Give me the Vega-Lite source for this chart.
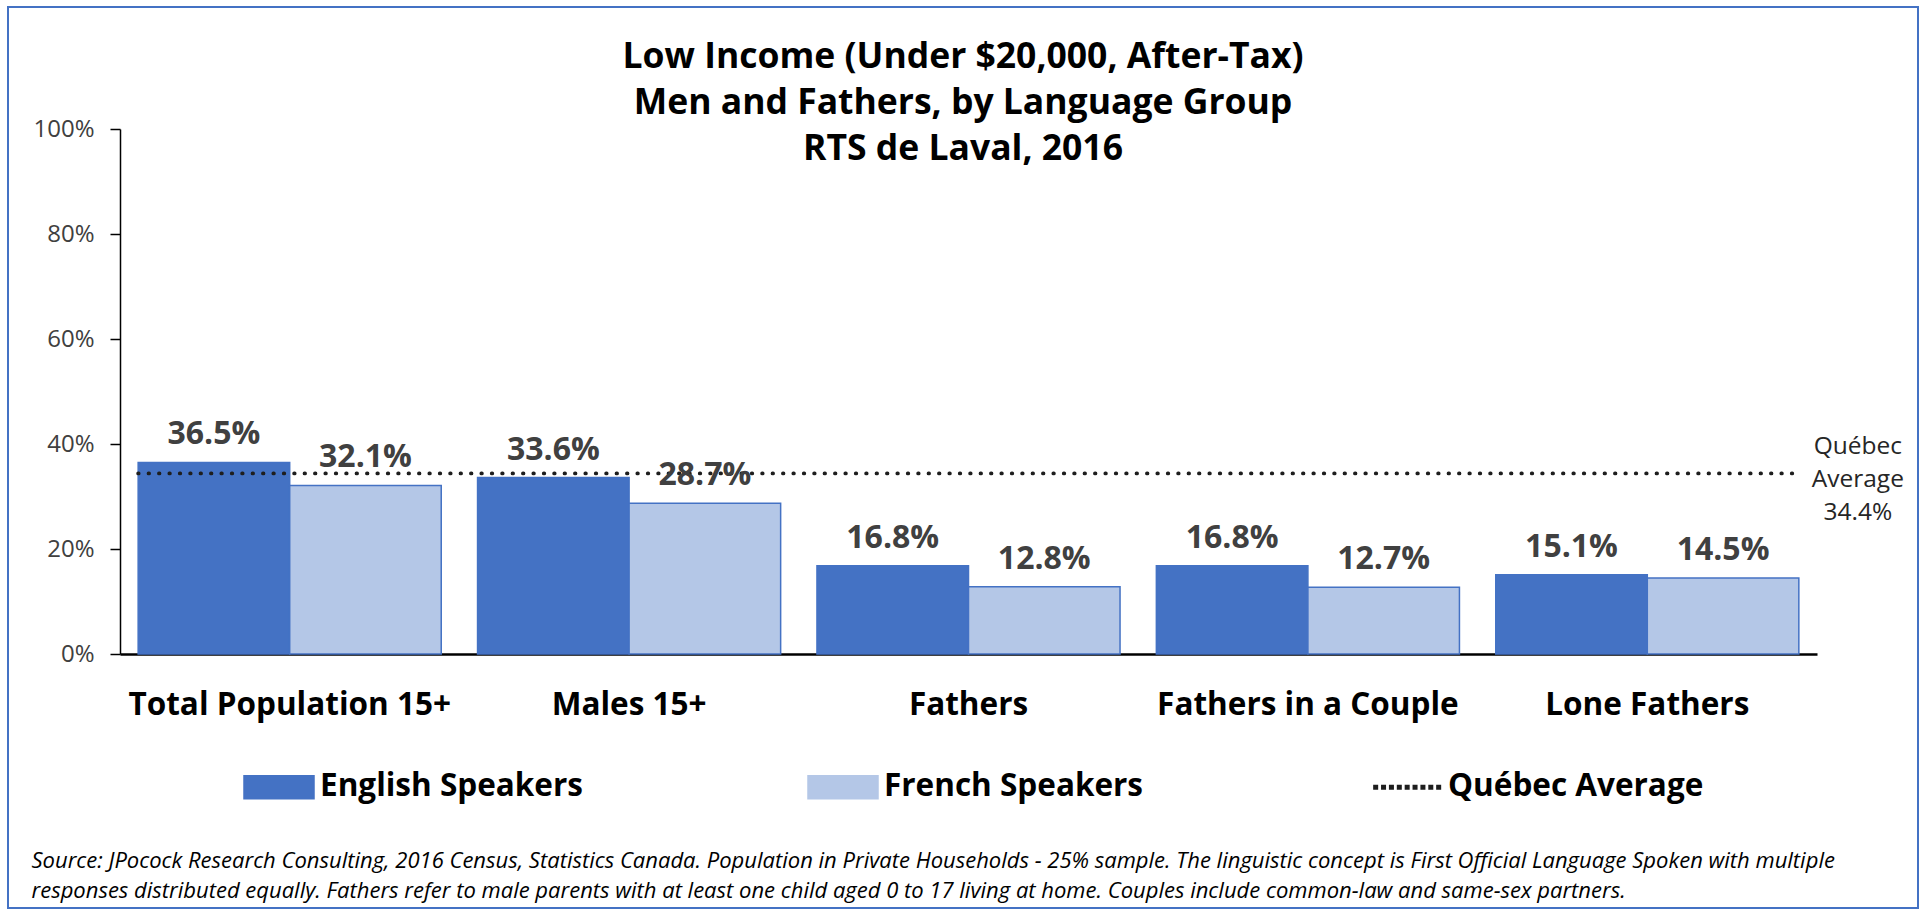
{
  "$schema": "https://vega.github.io/schema/vega-lite/v6.json",
  "width": 1910,
  "height": 901,
  "autosize": {"type": "none"},
  "padding": {"left": 8, "top": 7, "right": 7, "bottom": 6},
  "background": "white",
  "config": {
    "view": {"stroke": "#4472C4", "strokeWidth": 2},
    "font": "Open Sans"
  },
  "title": {
    "text": ["Low Income (Under $20,000, After-Tax)", "Men and Fathers, by Language Group", "RTS de Laval, 2016"],
    "font": "Open Sans",
    "fontSize": 35.5,
    "fontWeight": "bold",
    "color": "black",
    "lineHeight": 46,
    "anchor": "middle",
    "frame": "group",
    "baseline": "top",
    "offset": -160
  },
  "datasets": {
    "bars": [
      {"category": "Total Population 15+", "series": "English Speakers", "value": 0.365},
      {"category": "Total Population 15+", "series": "French Speakers", "value": 0.321},
      {"category": "Males 15+", "series": "English Speakers", "value": 0.336},
      {"category": "Males 15+", "series": "French Speakers", "value": 0.287},
      {"category": "Fathers", "series": "English Speakers", "value": 0.168},
      {"category": "Fathers", "series": "French Speakers", "value": 0.128},
      {"category": "Fathers in a Couple", "series": "English Speakers", "value": 0.168},
      {"category": "Fathers in a Couple", "series": "French Speakers", "value": 0.127},
      {"category": "Lone Fathers", "series": "English Speakers", "value": 0.151},
      {"category": "Lone Fathers", "series": "French Speakers", "value": 0.145}
    ],
    "avg": [
      {"series": "Québec Average", "value": 0.344}
    ]
  },
  "layer": [
    {
      "data": {"name": "bars"},
      "mark": {"type": "bar", "stroke": "#4472C4", "strokeWidth": 1.5},
      "encoding": {
        "x": {
          "field": "category",
          "type": "nominal",
          "sort": null,
          "scale": {
            "domain": ["Total Population 15+", "Males 15+", "Fathers", "Fathers in a Couple", "Lone Fathers"],
            "range": [112, 1809],
            "paddingInner": 0.107,
            "paddingOuter": 0.0535
          },
          "axis": {
            "orient": "bottom",
            "offset": -254,
            "domain": true,
            "domainColor": "black",
            "domainWidth": 2.5,
            "ticks": false,
            "tickSize": 0,
            "labelAngle": 0,
            "labelFont": "Open Sans",
            "labelFontSize": 31.5,
            "labelFontWeight": "bold",
            "labelColor": "black",
            "labelPadding": 35,
            "labelLimit": 400,
            "grid": false,
            "title": [
              "Source: JPocock Research Consulting, 2016 Census, Statistics Canada. Population in Private Households - 25% sample. The linguistic concept is First Official Language Spoken with multiple",
              "responses distributed equally. Fathers refer to male parents with at least one child aged 0 to 17 living at home. Couples include common-law and same-sex partners."
            ],
            "titleFont": "Open Sans",
            "titleFontSize": 22,
            "titleFontStyle": "italic",
            "titleFontWeight": "normal",
            "titleColor": "black",
            "titleAlign": "left",
            "titleAnchor": "start",
            "titleBaseline": "alphabetic",
            "titleLineHeight": 30,
            "titleX": 23,
            "titleY": 213,
            "titleLimit": 2000
          }
        },
        "xOffset": {
          "field": "series",
          "type": "nominal",
          "sort": null,
          "scale": {"domain": ["English Speakers", "French Speakers"]}
        },
        "y": {
          "field": "value",
          "type": "quantitative",
          "scale": {"domain": [0, 1], "range": [647, 122], "nice": false, "zero": true},
          "axis": {
            "values": [0, 0.2, 0.4, 0.6, 0.8, 1],
            "format": ".0%",
            "offset": -112,
            "domain": true,
            "domainColor": "black",
            "domainWidth": 1.5,
            "ticks": true,
            "tickColor": "black",
            "tickSize": 10,
            "tickWidth": 1.5,
            "labelFont": "Open Sans",
            "labelFontSize": 24,
            "labelColor": "#404040",
            "labelPadding": 16,
            "grid": false,
            "title": null
          }
        },
        "color": {
          "field": "series",
          "type": "nominal",
          "scale": {
            "domain": ["English Speakers", "French Speakers", "Québec Average"],
            "range": ["#4472C4", "#B4C7E7", "#1e1e1e"]
          },
          "legend": {
            "title": null,
            "orient": "none",
            "legendX": 235,
            "legendY": 744,
            "direction": "horizontal",
            "columns": 3,
            "padding": 0,
            "symbolType": {"expr": "datum.value === 'Québec Average' ? 'M-0.945,-0.05h0.1v0.1h-0.1Z M-0.72,-0.05h0.1v0.1h-0.1Z M-0.495,-0.05h0.1v0.1h-0.1Z M-0.27,-0.05h0.1v0.1h-0.1Z M-0.045,-0.05h0.1v0.1h-0.1Z M0.18,-0.05h0.1v0.1h-0.1Z M0.405,-0.05h0.1v0.1h-0.1Z M0.63,-0.05h0.1v0.1h-0.1Z M0.855,-0.05h0.1v0.1h-0.1Z' : 'M-1,-0.33H1V0.33H-1Z'"},
            "symbolStrokeColor": {"expr": "datum.value === 'Québec Average' ? 'transparent' : '#4472C4'"},
            "symbolSize": 4900,
            "symbolStrokeWidth": 1.5,
            "symbolOpacity": 1,
            "labelFont": "Open Sans",
            "labelFontSize": 31.5,
            "labelFontWeight": "bold",
            "labelColor": "black",
            "labelOffset": 5,
            "labelLimit": 400,
            "columnPadding": 222,
            "gridAlign": "all"
          }
        }
      }
    },
    {
      "data": {"name": "avg"},
      "mark": {"type": "rule", "strokeWidth": 3.8, "strokeDash": [0.5, 9.9], "strokeCap": "round"},
      "encoding": {
        "x": {"datum": "Total Population 15+", "bandPosition": 0},
        "x2": {"datum": "Lone Fathers", "bandPosition": 1},
        "y": {"field": "value", "type": "quantitative"},
        "color": {"field": "series", "type": "nominal"}
      }
    },
    {
      "data": {"name": "bars"},
      "mark": {"type": "text", "font": "Open Sans", "fontSize": 32, "fontWeight": "bold", "color": "#404040", "baseline": "alphabetic", "dy": -18},
      "encoding": {
        "x": {"field": "category", "type": "nominal", "sort": null},
        "xOffset": {"field": "series", "type": "nominal", "sort": null},
        "y": {"field": "value", "type": "quantitative"},
        "text": {"field": "value", "type": "quantitative", "format": ".1%"}
      }
    },
    {
      "data": {"name": "avg"},
      "mark": {"type": "text", "text": ["Québec", "Average", "34.4%"], "font": "Open Sans", "fontSize": 24.5, "color": "#262626", "lineHeight": 33, "align": "center", "baseline": "middle", "dx": 59, "dy": -26},
      "encoding": {
        "x": {"datum": "Lone Fathers", "bandPosition": 1},
        "y": {"field": "value", "type": "quantitative"}
      }
    }
  ]
}
